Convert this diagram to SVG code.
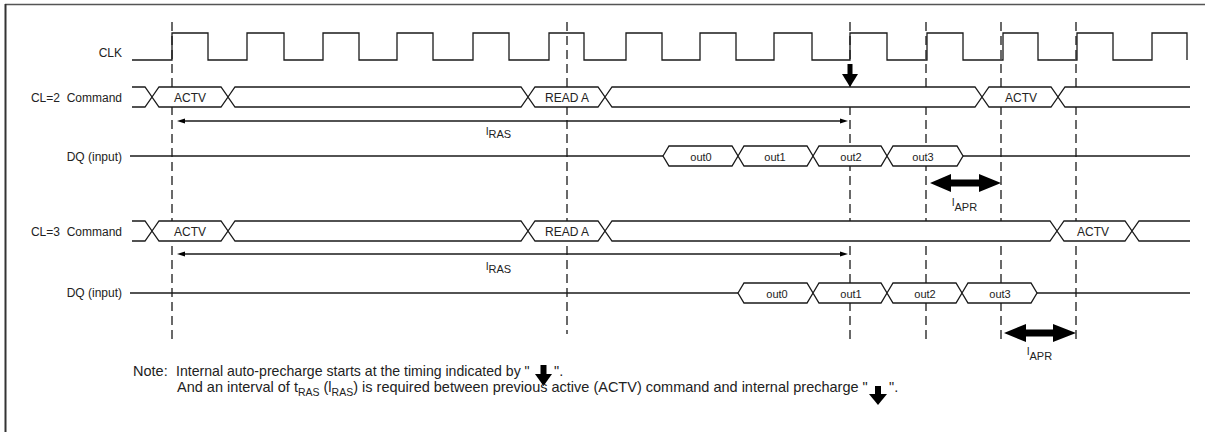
<svg xmlns="http://www.w3.org/2000/svg" width="1205" height="432" viewBox="0 0 1205 432">
<style>
.ln{fill:none;stroke:#1a1a1a;stroke-width:1.3}
.bus{fill:#fff;stroke:#1a1a1a;stroke-width:1.3;stroke-linejoin:miter}
.fillw{fill:#fff;stroke:none}
.dash{fill:none;stroke:#1a1a1a;stroke-width:1.3;stroke-dasharray:9 5}
.blk{fill:#000;stroke:none}
text{font-family:"Liberation Sans",Arial,sans-serif;fill:#222}
.lab{font-size:12px;text-anchor:end}
.bl{font-size:12px;text-anchor:middle}
.ol{font-size:11px;text-anchor:middle}
.lt{font-size:11px}
.note{font-size:14.5px}
</style>

<!-- frame -->
<g id="frame">
<line x1="5" y1="4.5" x2="1205" y2="4.5" stroke="#555" stroke-width="1.6"/>
<line x1="5.5" y1="4" x2="5.5" y2="432" stroke="#333" stroke-width="2"/>
</g>

<!-- dashed timing references -->
<g id="connectors">
<line class="dash" x1="172" y1="22" x2="172" y2="343"/>
<line class="dash" x1="567" y1="22" x2="567" y2="334"/>
<line class="dash" x1="850" y1="22" x2="850" y2="343"/>
<line class="dash" x1="926" y1="22" x2="926" y2="343"/>
<line class="dash" x1="1001" y1="22" x2="1001" y2="343"/>
<line class="dash" x1="1076" y1="22" x2="1076" y2="343"/>

<!-- tRAS arrows -->
<line class="ln" x1="184" y1="121" x2="841" y2="121"/>
<polygon class="blk" points="177,121 185,118.5 185,123.5"/>
<polygon class="blk" points="848,121 840,118.5 840,123.5"/>
<line class="ln" x1="184" y1="254" x2="841" y2="254"/>
<polygon class="blk" points="177,254 185,251.5 185,256.5"/>
<polygon class="blk" points="848,254 840,251.5 840,256.5"/>

<!-- tAPR double arrows -->
<polygon class="blk" points="930,183 951,174 951,179.5 979,179.5 979,174 1001,183 979,192 979,186.5 951,186.5 951,192"/>
<polygon class="blk" points="1004,333 1026,324 1026,329.5 1053,329.5 1053,324 1076,333 1053,342 1053,336.5 1026,336.5 1026,342"/>

<!-- precharge arrow -->
<rect class="blk" x="847.5" y="64" width="5" height="11"/>
<polygon class="blk" points="842,74 858,74 850,87"/>
</g>

<!-- CLK -->
<g id="clk">
<text class="lab" x="122" y="57">CLK</text>
<path class="ln" d="M132,60 H172 V33 H208 V60 H247 V33 H284 V60 H323 V33 H359 V60 H397 V33 H433 V60 H473 V33 H509 V60 H549 V33 H584 V60 H626 V33 H662 V60 H700 V33 H736 V60 H774 V33 H812 V60 H850 V33 H887 V60 H927 V33 H963 V60 H1003 V33 H1038 V60 H1077 V33 H1113 V60 H1152 V33 H1187 V60"/>
</g>

<!-- CL=2 Command -->
<g id="cmd2">
<text class="lab" x="122" y="101.5" xml:space="preserve">CL=2  Command</text>
<path class="fillw" d="M132,87 H145 L152,97 L145,107 H132 Z"/>
<path class="ln" d="M132,87 H145 L152,97 L145,107 H132"/>
<path class="bus" d="M152,97 L159,87 H221 L228,97 L221,107 H159 Z"/>
<path class="bus" d="M228,97 L235,87 H521 L528,97 L521,107 H235 Z"/>
<path class="bus" d="M528,97 L535,87 H598 L605,97 L598,107 H535 Z"/>
<path class="bus" d="M605,97 L612,87 H975 L982,97 L975,107 H612 Z"/>
<path class="bus" d="M982,97 L989,87 H1051 L1058,97 L1051,107 H989 Z"/>
<path class="fillw" d="M1190,87 H1065 L1058,97 L1065,107 H1190 Z"/>
<path class="ln" d="M1190,87 H1065 L1058,97 L1065,107 H1190"/>
<text class="bl" x="190" y="101.5">ACTV</text>
<text class="bl" x="567" y="101.5">READ A</text>
<text class="bl" x="1021" y="101.5">ACTV</text>
</g>

<!-- DQ row 1 -->
<g id="dq2">
<text class="lab" x="122" y="160.5">DQ (input)</text>
<line class="ln" x1="130" y1="156" x2="663" y2="156"/>
<line class="ln" x1="963" y1="156" x2="1190" y2="156"/>
<path class="bus" d="M663,156 L669,146 H732 L738,156 L732,166 H669 Z"/>
<path class="bus" d="M738,156 L744,146 H807 L813,156 L807,166 H744 Z"/>
<path class="bus" d="M813,156 L819,146 H881 L887,156 L881,166 H819 Z"/>
<path class="bus" d="M887,156 L893,146 H957 L963,156 L957,166 H893 Z"/>
<text class="ol" x="701" y="160.5">out0</text>
<text class="ol" x="775" y="160.5">out1</text>
<text class="ol" x="851" y="160.5">out2</text>
<text class="ol" x="923" y="160.5">out3</text>
</g>

<!-- CL=3 Command -->
<g id="cmd3">
<text class="lab" x="122" y="235.5" xml:space="preserve">CL=3  Command</text>
<path class="fillw" d="M132,221 H145 L152,231 L145,241 H132 Z"/>
<path class="ln" d="M132,221 H145 L152,231 L145,241 H132"/>
<path class="bus" d="M152,231 L159,221 H221 L228,231 L221,241 H159 Z"/>
<path class="bus" d="M228,231 L235,221 H521 L528,231 L521,241 H235 Z"/>
<path class="bus" d="M528,231 L535,221 H598 L605,231 L598,241 H535 Z"/>
<path class="bus" d="M605,231 L612,221 H1050 L1057,231 L1050,241 H612 Z"/>
<path class="bus" d="M1057,231 L1064,221 H1125 L1132,231 L1125,241 H1064 Z"/>
<path class="fillw" d="M1190,221 H1139 L1132,231 L1139,241 H1190 Z"/>
<path class="ln" d="M1190,221 H1139 L1132,231 L1139,241 H1190"/>
<text class="bl" x="190" y="235.5">ACTV</text>
<text class="bl" x="567" y="235.5">READ A</text>
<text class="bl" x="1093" y="235.5">ACTV</text>
</g>

<!-- DQ row 2 -->
<g id="dq3">
<text class="lab" x="122" y="297">DQ (input)</text>
<line class="ln" x1="130" y1="293" x2="738" y2="293"/>
<line class="ln" x1="1037" y1="293" x2="1190" y2="293"/>
<path class="bus" d="M738,293 L744,283 H807 L813,293 L807,303 H744 Z"/>
<path class="bus" d="M813,293 L819,283 H881 L887,293 L881,303 H819 Z"/>
<path class="bus" d="M887,293 L893,283 H956 L962,293 L956,303 H893 Z"/>
<path class="bus" d="M962,293 L968,283 H1031 L1037,293 L1031,303 H968 Z"/>
<text class="ol" x="777" y="297.5">out0</text>
<text class="ol" x="851" y="297.5">out1</text>
<text class="ol" x="925" y="297.5">out2</text>
<text class="ol" x="1000" y="297.5">out3</text>
</g>

<!-- interval labels -->
<g id="labels">
<text class="lt" x="486" y="135">l<tspan dy="3">RAS</tspan></text>
<text class="lt" x="486" y="270">l<tspan dy="3">RAS</tspan></text>
<text class="lt" x="952" y="206">l<tspan dy="5">APR</tspan></text>
<text class="lt" x="1027" y="355">l<tspan dy="5">APR</tspan></text>
</g>

<!-- note -->
<g id="note">
<text class="note" x="133" y="376">Note:</text>
<text class="note" x="176" y="376" style="font-size:14.1px">Internal auto-precharge starts at the timing indicated by "</text>
<rect class="blk" x="540.5" y="365" width="6" height="9.5"/>
<polygon class="blk" points="535,374 552,374 543.5,386"/>
<text class="note" x="554" y="376">".</text>
<text class="note" x="177" y="392">And an interval of t<tspan font-size="10.5" dy="4">RAS</tspan><tspan dy="-4"> (l</tspan><tspan font-size="10.5" dy="4">RAS</tspan><tspan dy="-4">) is required between previous active (ACTV) command and internal precharge  "</tspan></text>
<rect class="blk" x="875" y="386" width="6" height="8.5"/>
<polygon class="blk" points="869,394 887,394 878,405"/>
<text class="note" x="889" y="392">".</text>
</g>
</svg>
